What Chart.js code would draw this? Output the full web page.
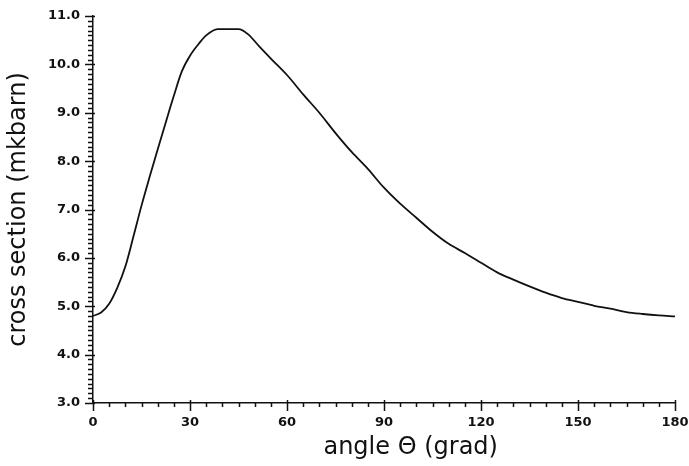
<!DOCTYPE html>
<html>
<head>
<meta charset="utf-8">
<script src="https://cdn.jsdelivr.net/npm/chart.js@4/dist/chart.umd.min.js"></script>
<style>
  html, body { margin: 0; padding: 0; background: #fff; }
  #wrap { width: 689px; height: 466px; }
</style>
</head>
<body>
<div id="wrap"><canvas id="courbe"></canvas></div>
<script>
// angle (grad) et section efficace (mkbarn)
const angles = [0, 2.5, 5, 7.5, 10, 12.5, 15, 17.5, 20, 22.5, 25, 27.5, 30, 33, 35, 38.5, 45, 48, 51.7, 55,
  60, 65, 70, 75, 80, 85, 90, 95, 100, 105, 110, 115, 120, 125, 130, 135, 140, 145, 150, 155, 160,
  165, 170, 175, 180];
const sections = [4.80, 4.87, 5.05, 5.38, 5.82, 6.44, 7.08, 7.67, 8.24, 8.80, 9.35, 9.86, 10.18, 10.45,
  10.60, 10.73, 10.73, 10.62, 10.35, 10.12, 9.78, 9.38, 9.00, 8.58, 8.19, 7.84, 7.45, 7.12, 6.83,
  6.54, 6.29, 6.10, 5.90, 5.70, 5.55, 5.41, 5.28, 5.17, 5.09, 5.01, 4.95, 4.88, 4.84, 4.81, 4.79];
const xTicks = [0, 30, 60, 90, 120, 150, 180];
const yTicks = [3, 4, 5, 6, 7, 8, 9, 10, 11];

const fontTicks = { family: "DejaVu Sans", size: 13, weight: "bold" };
const fontTitre = { family: "DejaVu Sans", size: 24 };

// petits traits de graduation (mineurs et majeurs) dessinés via les échelles
const graduations = {
  id: "graduations",
  afterDraw(chart) {
    const ctx = chart.ctx;
    const x = chart.scales.x, y = chart.scales.y;
    const x0 = x.getPixelForValue(0), y0 = y.getPixelForValue(3);
    ctx.save();
    ctx.strokeStyle = "#111";
    ctx.lineWidth = 1.5;
    ctx.beginPath();
    for (let a = 0; a <= 180; a += 5) {
      const px = Math.round(x.getPixelForValue(a)) + 0.5;
      const major = a % 30 === 0;
      ctx.moveTo(px, y0 - (major ? 3 : 0));
      ctx.lineTo(px, y0 + (major ? 8 : 4));
    }
    for (let i = 30; i <= 110; i++) {
      const py = Math.round(y.getPixelForValue(i / 10)) + 0.5;
      const major = i % 10 === 0;
      ctx.moveTo(x0 - (major ? 8 : 5), py);
      ctx.lineTo(x0 + (major ? 2 : 0), py);
    }
    ctx.stroke();
    ctx.restore();
  }
};

const data = {
  labels: angles,
  datasets: [{
    data: angles.map((a, i) => ({ x: a, y: sections[i] })),
    borderColor: "#111",
    borderWidth: 1.8,
    pointRadius: 0,
    cubicInterpolationMode: "monotone",
    fill: false,
  }],
};

const config = {
  type: "line",
  data: data,
  options: {
    responsive: true,
    maintainAspectRatio: false,
    animation: false,
    layout: { padding: { top: 16, right: 14, left: 0, bottom: 0 } },
    plugins: { legend: { display: false }, tooltip: { enabled: false } },
    scales: {
      x: {
        type: "linear",
        min: 0,
        max: 180,
        afterBuildTicks: s => { s.ticks = xTicks.map(v => ({ value: v })); },
        afterFit: s => { s.height = 63; s.paddingLeft = 0; s.paddingRight = 0; },
        grid: { display: false, drawTicks: false },
        border: { display: true, color: "#111", width: 1.5 },
        ticks: { color: "#111", font: fontTicks, padding: 12, maxRotation: 0 },
        title: { display: true, text: "\u00a0\u00a0\u00a0\u00a0\u00a0\u00a0\u00a0angle Θ (grad)", color: "#111", font: fontTitre, padding: { top: 2 } },
      },
      y: {
        min: 3,
        max: 11,
        afterBuildTicks: s => { s.ticks = yTicks.map(v => ({ value: v })); },
        afterFit: s => { s.width = 93; s.paddingTop = 0; s.paddingBottom = 0; },
        grid: { display: false, drawTicks: false },
        border: { display: true, color: "#111", width: 1.5 },
        ticks: { color: "#111", font: fontTicks, padding: 13, callback: v => v.toFixed(1) },
        title: { display: true, text: "cross section (mkbarn)", color: "#111", font: fontTitre, padding: { bottom: 0 } },
      },
    },
  },
  plugins: [graduations],
};

new Chart(document.querySelector("#courbe"), config);
</script>
</body>
</html>
